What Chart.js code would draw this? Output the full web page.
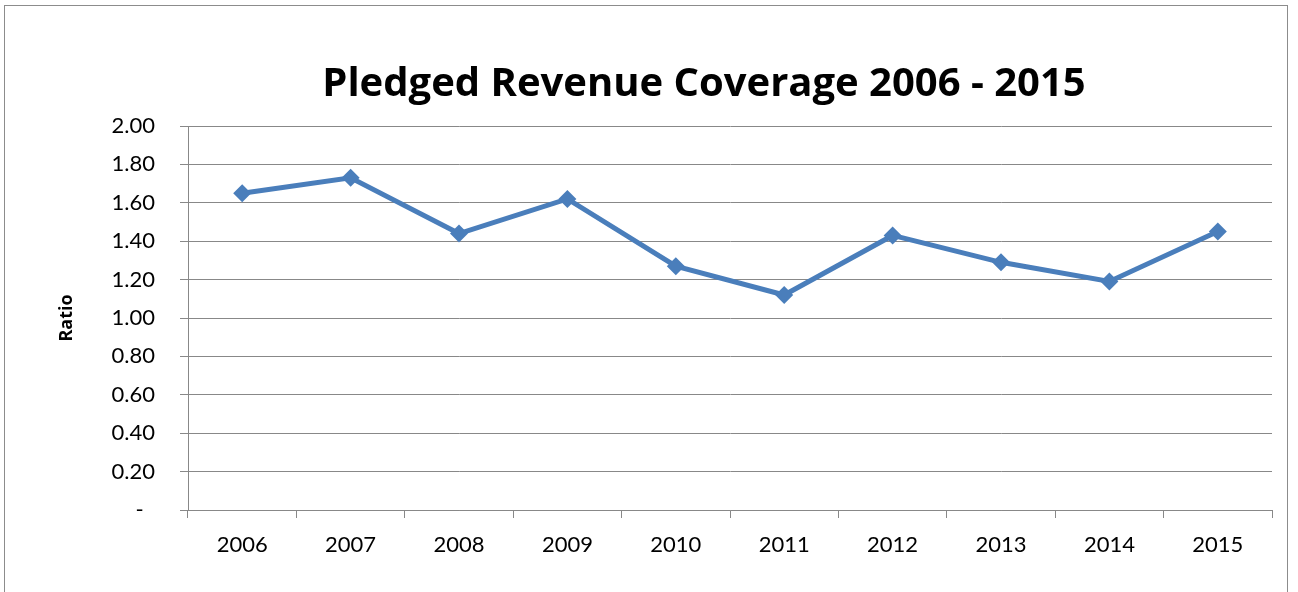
<!DOCTYPE html>
<html>
<head>
<meta charset="utf-8">
<script src="https://cdn.jsdelivr.net/npm/chart.js@4"></script>
<style>
  html, body { margin: 0; padding: 0; background: #fff; overflow: hidden; }
  #wrap { position: relative; width: 1298px; height: 592px; }
  #frame { position: absolute; left: 4px; top: 5px; width: 1282px; height: 700px; border: 1.5px solid #8c8c8c; }
  canvas { position: absolute; left: 0; top: 0; }
</style>
</head>
<body>
<div id="wrap">
  <div id="frame"></div>
  <canvas id="lineChart" width="1298" height="592"></canvas>
</div>
<script>
const years = ['2006', '2007', '2008', '2009', '2010', '2011', '2012', '2013', '2014', '2015'];
const coverage = [1.65, 1.73, 1.44, 1.62, 1.27, 1.12, 1.43, 1.29, 1.19, 1.45];
const yTicks = [0, 0.2, 0.4, 0.6, 0.8, 1.0, 1.2, 1.4, 1.6, 1.8, 2.0];

const lineBlue = '#4a7ebb';
const gridGray = '#888888';
const tickFont = 'Lato, "Open Sans", sans-serif';
const boldFont = '"Open Sans", Lato, sans-serif';

// negative right padding widens the title box so the title sits right of centre;
// an empty right-hand axis takes that space back from the plot area
const padRight = -110;
const plotRight = 1272;

const ctx = document.getElementById('lineChart').getContext('2d');
new Chart(ctx, {
  type: 'line',
  data: {
    labels: years,
    datasets: [{
      label: 'Ratio',
      data: coverage,
      borderColor: lineBlue,
      backgroundColor: lineBlue,
      borderWidth: 5,
      pointStyle: 'rectRot',
      pointRadius: 9,
      pointBorderWidth: 0,
      pointBackgroundColor: lineBlue,
      tension: 0
    }]
  },
  options: {
    responsive: false,
    animation: false,
    layout: { padding: { left: 0, right: padRight, top: 0, bottom: 0 } },
    plugins: {
      legend: { display: false },
      tooltip: { enabled: false },
      title: {
        display: true,
        text: 'Pledged Revenue Coverage 2006 - 2015',
        color: '#000',
        font: { family: boldFont, size: 40, weight: 'bold' },
        padding: { top: 60.3, bottom: 17.7 }
      }
    },
    scales: {
      x: {
        offset: true,
        grid: {
          offset: true,
          drawOnChartArea: false,
          drawTicks: true,
          tickLength: 8,
          color: gridGray
        },
        border: { color: gridGray, width: 1 },
        ticks: {
          color: '#000',
          padding: 14,
          maxRotation: 0,
          font: { family: tickFont, size: 22 }
        },
        afterFit: (scale) => { scale.height = 82; }
      },
      y: {
        min: 0,
        max: 2,
        afterBuildTicks: (scale) => { scale.ticks = yTicks.map(v => ({ value: v })); },
        grid: {
          color: gridGray,
          tickLength: 8,
          drawTicks: true
        },
        border: { color: gridGray, width: 1 },
        ticks: {
          color: '#000',
          padding: 25,
          font: { family: tickFont, size: 22 },
          callback: (v) => v === 0 ? '-  ' : v.toFixed(2)
        },
        title: {
          display: true,
          text: 'Ratio',
          color: '#000',
          font: { family: boldFont, size: 18, weight: 'bold' },
          padding: { top: 55.7, bottom: 0 }
        },
        afterFit: (scale) => { scale.width = 188; }
      },
      yRight: {
        position: 'right',
        min: 0,
        max: 2,
        grid: { display: false, drawTicks: false },
        border: { display: false },
        ticks: { display: false },
        afterFit: (scale) => { scale.width = 1298 - padRight - plotRight; }
      }
    }
  }
});
</script>
</body>
</html>
